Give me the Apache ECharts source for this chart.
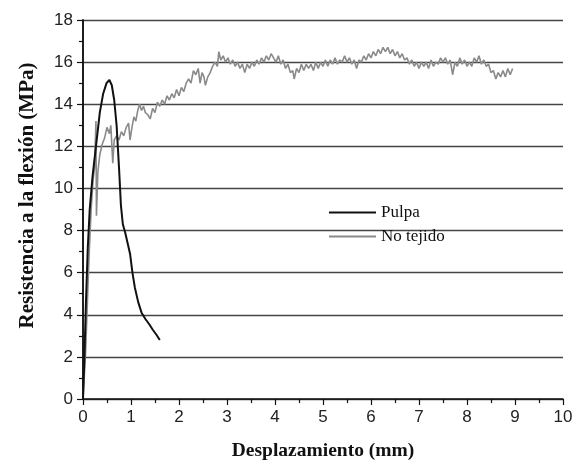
<!DOCTYPE html>
<html><head><meta charset="utf-8">
<script src="https://cdn.jsdelivr.net/npm/echarts@6/dist/echarts.min.js"></script>
<style>html,body{margin:0;padding:0;background:#fff}#c{width:578px;height:470px}</style>
</head><body><div id="c"></div>
<script>
const seriesNames = ['Pulpa', 'No tejido'];
const xTicks = [0,1,2,3,4,5,6,7,8,9,10];
const yTicks = [0,2,4,6,8,10,12,14,16,18];

const pulpaX = [0,0.03,0.06,0.1,0.14,0.2,0.27,0.35,0.42,0.49,0.55,0.6,0.65,0.7,0.75,0.79,0.83,0.88,0.93,0.98,1.03,1.08,1.15,1.22,1.3,1.38,1.45,1.53,1.6];
const pulpaY = [0,2,4.5,7.2,9,10.6,12,13.6,14.5,15,15.15,14.9,14.2,13,11,9.2,8.3,7.9,7.4,6.9,6,5.3,4.6,4.1,3.8,3.55,3.3,3.05,2.8];

const noTejidoX = [0,0.05,0.09,0.13,0.17,0.21,0.24,0.27,0.28,0.31,0.35,0.4,0.45,0.5,0.55,0.58,0.62,0.65,0.7,0.75,0.8,0.85,0.9,0.95,0.98,1.02,1.06,1.1,1.14,1.18,1.22,1.26,1.3,1.35,1.4,1.45,1.5,1.55,1.6,1.65,1.7,1.75,1.8,1.85,1.9,1.95,2.0,2.05,2.1,2.15,2.2,2.25,2.3,2.35,2.4,2.44,2.48,2.52,2.55,2.6,2.65,2.7,2.75,2.8,2.83,2.87,2.92,2.97,3.02,3.07,3.12,3.17,3.22,3.27,3.32,3.37,3.42,3.47,3.52,3.57,3.62,3.67,3.72,3.77,3.82,3.87,3.92,3.97,4.02,4.07,4.12,4.17,4.22,4.27,4.32,4.37,4.4,4.45,4.5,4.55,4.6,4.65,4.7,4.75,4.8,4.85,4.9,4.95,5.0,5.05,5.1,5.15,5.2,5.25,5.3,5.35,5.4,5.45,5.5,5.55,5.6,5.65,5.7,5.75,5.8,5.85,5.9,5.95,6.0,6.05,6.1,6.15,6.2,6.25,6.3,6.35,6.4,6.45,6.5,6.55,6.6,6.65,6.7,6.75,6.8,6.85,6.9,6.95,7.0,7.05,7.1,7.15,7.2,7.25,7.3,7.35,7.4,7.45,7.5,7.55,7.6,7.65,7.7,7.75,7.8,7.85,7.9,7.95,8.0,8.05,8.1,8.15,8.2,8.25,8.3,8.35,8.4,8.45,8.5,8.55,8.6,8.65,8.7,8.75,8.8,8.85,8.9,8.95];
const noTejidoY = [0,2,4.5,7,9,10.4,11,13.2,8.7,10.8,11.6,12.1,12.4,12.9,12.6,13,11.2,12.3,12.5,12.3,12.7,12.5,12.9,13.1,12.3,12.9,13.4,13.2,13.7,14.0,13.7,13.9,13.6,13.5,13.3,13.8,13.6,14.1,13.9,14.2,14.0,14.4,14.2,14.5,14.3,14.7,14.4,14.8,14.6,15.0,15.2,15.0,15.6,15.4,15.7,15.0,15.5,15.3,14.9,15.3,15.5,15.8,16.0,15.8,16.5,16.1,16.3,16.0,16.2,15.9,16.1,15.8,16.0,15.7,15.9,15.5,15.9,15.7,16.0,15.8,16.1,15.9,16.2,16.0,16.3,16.1,16.4,16.2,16.0,16.3,15.9,16.1,15.7,15.9,15.5,15.6,15.2,15.7,15.5,15.9,15.6,15.9,15.7,15.9,15.6,16.0,15.7,16.0,15.8,16.1,15.8,16.1,15.9,16.2,15.9,16.1,16.0,16.3,16.0,16.2,15.9,16.1,15.7,16.1,16.0,16.3,16.1,16.4,16.2,16.5,16.3,16.6,16.4,16.7,16.5,16.7,16.4,16.6,16.3,16.5,16.2,16.4,16.1,16.2,15.9,16.1,15.8,16.0,15.7,16.0,15.8,16.0,15.7,16.1,15.8,16.0,15.9,16.2,16.0,16.2,15.9,16.1,15.4,16.0,15.8,16.2,15.9,16.1,15.8,16.0,15.8,16.2,16.0,16.3,15.9,16.1,15.8,15.9,15.5,15.6,15.2,15.5,15.3,15.6,15.3,15.7,15.4,15.7];

const zip = (xs, ys) => xs.map((x, i) => [x, ys[i]]);

const chart = echarts.init(document.getElementById('c'), null, {renderer: 'canvas'});
const tickFont = {fontFamily: 'Liberation Sans, Arial, sans-serif', fontSize: 17, color: '#222'};
const serif = 'Liberation Serif, Times New Roman, serif';
chart.setOption({
  animation: false,
  backgroundColor: '#fff',
  grid: {left: 83, right: 15, top: 20, bottom: 71, containLabel: false},
  legend: {
    data: seriesNames,
    orient: 'vertical',
    left: 324, top: 199,
    icon: 'rect',
    itemWidth: 47, itemHeight: 2, itemGap: 7,
    textStyle: {fontFamily: serif, fontSize: 17, color: '#111'}
  },
  xAxis: {
    type: 'value', min: 0, max: 10, interval: 1,
    name: 'Desplazamiento (mm)', nameLocation: 'middle', nameGap: 42,
    nameTextStyle: {fontFamily: serif, fontSize: 19.5, fontWeight: 'bold', color: '#111'},
    axisLine: {show: true, onZero: false, lineStyle: {color: '#111', width: 1.5}},
    axisTick: {show: true, inside: false, length: 6, lineStyle: {color: '#111', width: 1.2}},
    minorTick: {show: true, splitNumber: 2, length: 4, lineStyle: {color: '#111', width: 1.2}},
    axisLabel: Object.assign({margin: 10, formatter: v => xTicks.includes(v) ? String(v) : ''}, tickFont),
    splitLine: {show: false}
  },
  yAxis: [{
    type: 'value', min: 0, max: 18, interval: 2,
    name: 'Resistencia a la flexión (MPa)', nameLocation: 'middle', nameGap: 45,
    nameTextStyle: {fontFamily: serif, fontSize: 21, fontWeight: 'bold', color: '#111', padding: [0, 0, 0, 28]},
    axisLine: {show: true, onZero: false, lineStyle: {color: '#111', width: 1.5}},
    axisTick: {show: true, inside: false, length: 6, lineStyle: {color: '#111', width: 1.2}},
    minorTick: {show: true, splitNumber: 2, length: 4, lineStyle: {color: '#111', width: 1.2}},
    axisLabel: Object.assign({margin: 10, formatter: v => yTicks.includes(v) ? String(v) : ''}, tickFont),
    splitLine: {show: true, lineStyle: {color: '#444', width: 1.3}}
  }, {
    type: 'value', min: 0, max: 18, interval: 2, position: 'right',
    axisLine: {show: true, lineStyle: {color: '#111', width: 1.5}},
    axisTick: {show: false}, axisLabel: {show: false}, splitLine: {show: false}
  }],
  series: [
    {
      name: 'No tejido', type: 'line', data: zip(noTejidoX, noTejidoY),
      symbol: 'none', lineStyle: {color: '#8a8a8a', width: 1.6}, itemStyle: {color: '#8a8a8a'}, z: 2
    },
    {
      name: 'Pulpa', type: 'line', data: zip(pulpaX, pulpaY),
      symbol: 'none', lineStyle: {color: '#111', width: 2}, itemStyle: {color: '#111'}, z: 3
    }
  ]
});
</script></body></html>
